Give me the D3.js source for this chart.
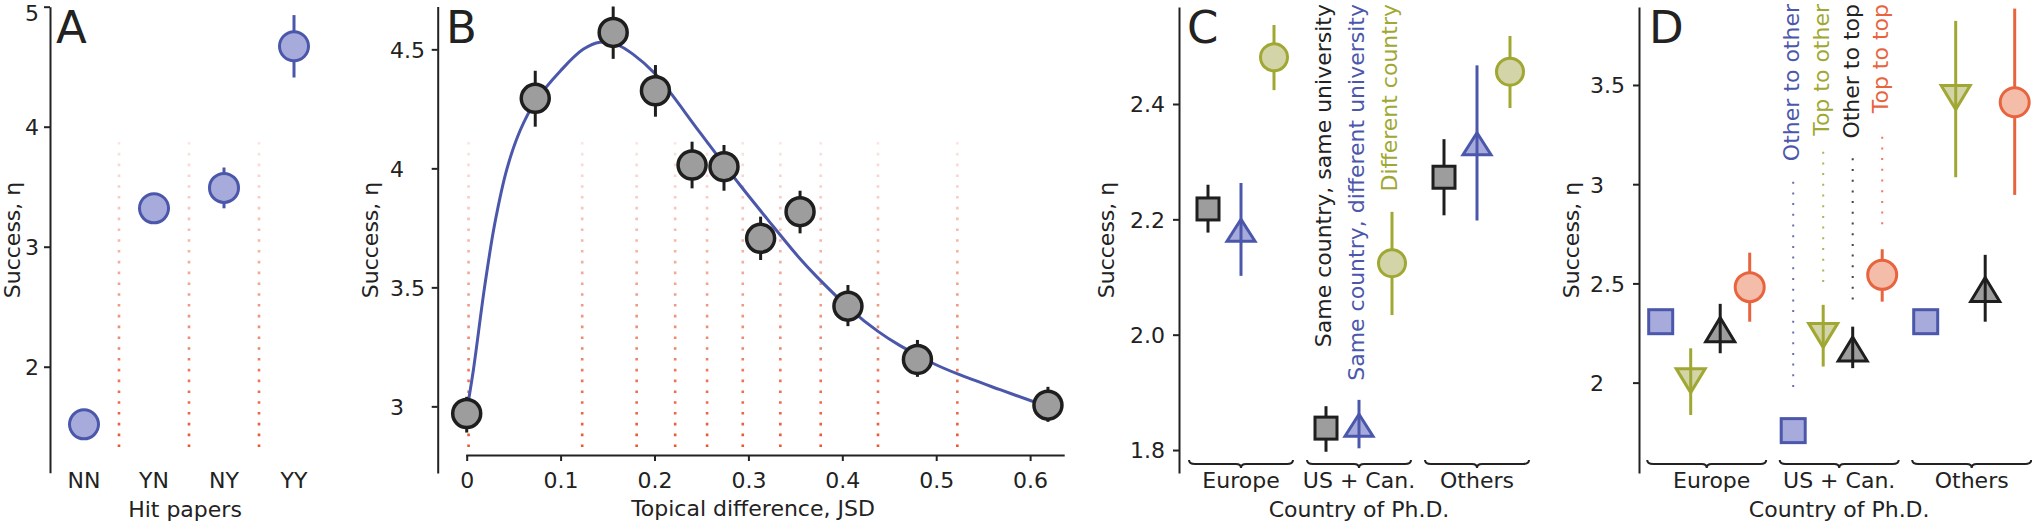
<!DOCTYPE html>
<html>
<head>
<meta charset="utf-8">
<script src="https://cdn.jsdelivr.net/npm/d3@7/dist/d3.min.js"></script>
<style>
  html, body { margin: 0; padding: 0; background: #fff; }
  svg { display: block; font-family: "DejaVu Sans", sans-serif; }
  text { fill: #222; }
</style>
</head>
<body>
<svg id="chart" width="2032" height="530"></svg>
<script>
// ---------------- DATA ----------------
// Panel A
const hitCategories = ["NN", "YN", "NY", "YY"];
const hitSuccess = [1.52, 3.32, 3.49, 4.67];
const hitErrLow = [1.49, 3.29, 3.32, 4.41];
const hitErrHigh = [1.55, 3.35, 3.66, 4.93];

// Panel B
const jsdValues = [0.0, 0.073, 0.156, 0.201, 0.240, 0.274, 0.313, 0.355, 0.406, 0.480, 0.619];
const jsdSuccess = [2.97, 4.294, 4.571, 4.326, 4.014, 4.007, 3.706, 3.818, 3.421, 3.197, 3.005];
const jsdErrLow = [2.89, 4.175, 4.46, 4.217, 3.916, 3.906, 3.615, 3.727, 3.337, 3.124, 2.935];
const jsdErrHigh = [3.04, 4.41, 4.68, 4.434, 4.112, 4.098, 3.797, 3.906, 3.51, 3.279, 3.082];
const jsdBinEdges = [0.002, 0.123, 0.181, 0.222, 0.256, 0.294, 0.334, 0.377, 0.438, 0.5225];
const fitJsd = [0, 0.007, 0.019, 0.030, 0.043, 0.057, 0.073, 0.100, 0.124, 0.142, 0.160, 0.177, 0.200, 0.2165, 0.2485, 0.291, 0.3195, 0.355, 0.3727, 0.408, 0.438, 0.4615, 0.497, 0.5235, 0.568, 0.6106];
const fitSuccess = [2.98, 3.15, 3.50, 3.77, 4.00, 4.16, 4.28, 4.41, 4.50, 4.53, 4.52, 4.48, 4.40, 4.32, 4.15, 3.93, 3.79, 3.62, 3.545, 3.41, 3.315, 3.255, 3.18, 3.135, 3.07, 3.01];
const jsdTicks = [0, 0.1, 0.2, 0.3, 0.4, 0.5, 0.6];

// Panel C
const phdRegions = ["Europe", "US + Can.", "Others"];
const mobilitySeries = ["Same country, same university", "Same country, different university", "Different country"];
const sameUniSuccess = [2.218, 1.838, 2.273];
const sameUniLow = [2.177, 1.797, 2.207];
const sameUniHigh = [2.26, 1.876, 2.339];
const diffUniSuccess = [2.181, 1.843, 2.331];
const diffUniLow = [2.102, 1.803, 2.198];
const diffUniHigh = [2.263, 1.887, 2.467];
const diffCountrySuccess = [2.481, 2.124, 2.456];
const diffCountryLow = [2.424, 2.034, 2.393];
const diffCountryHigh = [2.537, 2.213, 2.518];

// Panel D
const prestigeSeries = ["Other to other", "Top to other", "Other to top", "Top to top"];
const otherOtherSuccess = [2.307, 1.758, 2.307];
const topOtherSuccess = [2.01, 2.238, 3.437];
const topOtherLow = [1.837, 2.081, 3.035];
const topOtherHigh = [2.173, 2.392, 3.823];
const otherTopSuccess = [2.267, 2.169, 2.469];
const otherTopLow = [2.148, 2.073, 2.307];
const otherTopHigh = [2.397, 2.282, 2.644];
const topTopSuccess = [2.481, 2.543, 3.413];
const topTopLow = [2.307, 2.408, 2.946];
const topTopHigh = [2.655, 2.672, 3.885];

// ---------------- STYLE ----------------
const C = {
  blueS: "#4b57ab", blueF: "#a7abdb",
  blackS: "#1e1e1e", grayF: "#9d9d9d",
  oliveS: "#a0a833", oliveF: "#d3d4a8",
  redS: "#e8643f", redF: "#f4bda9",
  dots: "#e4532c", axis: "#222"
};
const FS = 22;

const svg = d3.select("#chart");
const defs = svg.append("defs");
const grad = defs.append("linearGradient").attr("id", "dotGrad")
  .attr("gradientUnits", "userSpaceOnUse").attr("x1", 0).attr("x2", 0).attr("y1", 142).attr("y2", 455);
grad.append("stop").attr("offset", "0%").attr("stop-color", C.dots).attr("stop-opacity", 0.15);
grad.append("stop").attr("offset", "100%").attr("stop-color", C.dots).attr("stop-opacity", 1);

function styleAxis(g) {
  g.selectAll("path.domain").attr("stroke", C.axis).attr("stroke-width", 2);
  g.selectAll(".tick line").attr("stroke", C.axis).attr("stroke-width", 2);
  g.selectAll("text").attr("font-size", FS).attr("font-family", "DejaVu Sans").attr("fill", "#222");
}
function yAxis(scale, axisX, ticks, fmt, labelLeft) {
  const g = svg.append("g").attr("transform", `translate(${axisX},0)`)
    .call(d3.axisLeft(scale).tickValues(ticks).tickFormat(fmt).tickSize(6).tickSizeOuter(0));
  styleAxis(g);
  g.selectAll(".tick text").attr("text-anchor", "start").attr("x", labelLeft - axisX).attr("dy", "0.36em")
    .attr("y", d => scale(d) < 12 ? 6 : 0);
  return g;
}
function yTitle(xBase) {
  svg.append("text").attr("transform", `translate(${xBase},240) rotate(-90)`)
    .attr("text-anchor", "middle").attr("font-size", FS).text("Success, η");
}
function panelLetter(x, t) {
  svg.append("text").attr("x", x).attr("y", 43).attr("font-size", 45).attr("fill", "#111").text(t);
}
function errBar(x, y1, y2, color, w) {
  svg.append("line").attr("x1", x).attr("x2", x).attr("y1", y1).attr("y2", y2)
    .attr("stroke", color).attr("stroke-width", w || 3);
}
function circleMark(x, y, r, fill, stroke, sw) {
  svg.append("circle").attr("cx", x).attr("cy", y).attr("r", r)
    .attr("fill", fill).attr("stroke", stroke).attr("stroke-width", sw);
}
function squareMark(x, y, s, fill, stroke) {
  svg.append("rect").attr("x", x - s / 2).attr("y", y - s / 2).attr("width", s).attr("height", s)
    .attr("fill", fill).attr("stroke", stroke).attr("stroke-width", 3);
}
function triMark(x, y, hw, hh, up, fill, stroke) {
  const d = up
    ? `M${x},${y - hh} L${x - hw},${y + hh} L${x + hw},${y + hh} Z`
    : `M${x},${y + hh} L${x - hw},${y - hh} L${x + hw},${y - hh} Z`;
  svg.append("path").attr("d", d).attr("fill", fill).attr("stroke", stroke)
    .attr("stroke-width", 3).attr("stroke-linejoin", "miter");
}
function brace(x0, x1, y) {
  const cx = (x0 + x1) / 2;
  const d = `M${x0},${y - 4} Q${x0},${y} ${x0 + 6},${y} L${cx - 5},${y} Q${cx},${y} ${cx},${y + 4} Q${cx},${y} ${cx + 5},${y} L${x1 - 6},${y} Q${x1},${y} ${x1},${y - 4}`;
  svg.append("path").attr("d", d).attr("fill", "none").attr("stroke", C.axis).attr("stroke-width", 2);
}
function dottedRed(x) {
  svg.append("line").attr("x1", x).attr("x2", x).attr("y1", 142).attr("y2", 455)
    .attr("stroke", "url(#dotGrad)").attr("stroke-width", 2.6).attr("stroke-dasharray", "2.6,8.2");
}

// ---------------- PANEL A ----------------
{
  const x = d3.scalePoint().domain(hitCategories).range([84, 294]);
  const y = d3.scaleLinear().domain([1.117, 5]).range([472.7, 6.7]);
  const step = x.step();
  hitCategories.slice(1).forEach(c => dottedRed(x(c) - step / 2));
  yAxis(y, 50, [2, 3, 4, 5], d3.format("d"), 25);
  yTitle(19.5);
  panelLetter(56, "A");
  hitCategories.forEach((c, i) => {
    errBar(x(c), y(hitErrLow[i]), y(hitErrHigh[i]), C.blueS, 3);
    circleMark(x(c), y(hitSuccess[i]), 14.5, C.blueF, C.blueS, 3);
    svg.append("text").attr("x", x(c)).attr("y", 488).attr("text-anchor", "middle").attr("font-size", FS).text(c);
  });
  svg.append("text").attr("x", 185).attr("y", 517).attr("text-anchor", "middle").attr("font-size", FS).text("Hit papers");
}

// ---------------- PANEL B ----------------
{
  const x = d3.scaleLinear().domain([-0.001, 0.6363]).range([465.76, 1064.2]);
  const y = d3.scaleLinear().domain([2.72, 4.68]).range([473, 6.5]);
  jsdBinEdges.forEach(e => dottedRed(x(e)));
  yAxis(y, 437.7, [3, 3.5, 4, 4.5], d3.format(""), 390);
  const gx = svg.append("g").attr("transform", "translate(0,455)")
    .call(d3.axisBottom(x).tickValues(jsdTicks).tickSize(6).tickSizeOuter(0).tickPadding(11)
      .tickFormat(d => d === 0 ? "0" : d3.format(".1f")(d)));
  styleAxis(gx);
  yTitle(378);
  panelLetter(446, "B");
  const line = d3.line().x(d => x(d[0])).y(d => y(d[1])).curve(d3.curveCatmullRom.alpha(0.5));
  svg.append("path").datum(fitJsd.map((v, i) => [v, fitSuccess[i]]))
    .attr("d", line).attr("fill", "none").attr("stroke", C.blueS).attr("stroke-width", 3);
  jsdValues.forEach((v, i) => {
    errBar(x(v), y(jsdErrLow[i]), y(jsdErrHigh[i]), C.blackS, 3);
    circleMark(x(v), y(jsdSuccess[i]), 14, C.grayF, C.blackS, 3.5);
  });
  svg.append("text").attr("x", 753).attr("y", 516).attr("text-anchor", "middle").attr("font-size", FS)
    .text("Topical difference, JSD");
}

// ---------------- PANEL C ----------------
{
  const x = d3.scalePoint().domain(phdRegions).range([1241, 1477]);
  const y = d3.scaleLinear().domain([1.76, 2.568]).range([473.1, 7.1]);
  const off = 33;
  yAxis(y, 1179, [1.8, 2.0, 2.2, 2.4], d3.format(".1f"), 1130);
  yTitle(1114);
  panelLetter(1187, "C");
  phdRegions.forEach((r, i) => {
    const cx = x(r);
    brace(cx - 52, cx + 52, 464);
    svg.append("text").attr("x", cx).attr("y", 488).attr("text-anchor", "middle").attr("font-size", FS).text(r);
    errBar(cx - off, y(sameUniLow[i]), y(sameUniHigh[i]), C.blackS, 3);
    squareMark(cx - off, y(sameUniSuccess[i]), 22, C.grayF, C.blackS);
    triMark(cx, y(diffUniSuccess[i]), 14, 11, true, C.blueF, C.blueS);
    errBar(cx, y(diffUniLow[i]), y(diffUniHigh[i]), C.blueS, 3);
    errBar(cx + off, y(diffCountryLow[i]), y(diffCountryHigh[i]), C.oliveS, 3);
    circleMark(cx + off, y(diffCountrySuccess[i]), 13.5, C.oliveF, C.oliveS, 3);
  });
  const lc = x("US + Can.");
  const legendColors = ["#222", C.blueS, C.oliveS];
  mobilitySeries.forEach((s, i) => {
    svg.append("text").attr("transform", `translate(${lc - off + i * off + 5},4) rotate(-90)`)
      .attr("text-anchor", "end").attr("font-size", FS).style("fill", legendColors[i]).text(s);
  });
  svg.append("text").attr("x", lc).attr("y", 517).attr("text-anchor", "middle").attr("font-size", FS).text("Country of Ph.D.");
}

// ---------------- PANEL D ----------------
{
  const x = d3.scalePoint().domain(phdRegions).range([1706.7, 1971.7]);
  const y = d3.scaleLinear().domain([1.545, 3.893]).range([472.9, 7.0]);
  const offs = [-46, -16, 13.5, 43];
  yAxis(y, 1639, [2, 2.5, 3, 3.5], d3.format(""), 1590);
  yTitle(1579);
  panelLetter(1649, "D");
  const lc = x("US + Can.");
  const legendColors = [C.blueS, C.oliveS, "#222", C.redS];
  const connTop = [181.7, 151.7, 158.3, 136.7];
  const connBottom = [393.3, 283.3, 305, 226.7];
  prestigeSeries.forEach((s, i) => {
    svg.append("line").attr("x1", lc + offs[i]).attr("x2", lc + offs[i])
      .attr("y1", connTop[i]).attr("y2", connBottom[i])
      .attr("stroke", legendColors[i]).attr("stroke-width", 2).attr("stroke-dasharray", "2,8.7").attr("opacity", 0.85);
    svg.append("text").attr("transform", `translate(${lc + offs[i] + 6},4) rotate(-90)`)
      .attr("text-anchor", "end").attr("font-size", FS).style("fill", legendColors[i]).text(s);
  });
  phdRegions.forEach((r, i) => {
    const cx = x(r);
    brace(cx - 59.5, cx + 59.5, 464);
    svg.append("text").attr("x", cx + (i === 0 ? 5 : 0)).attr("y", 488).attr("text-anchor", "middle").attr("font-size", FS).text(r);
    squareMark(cx + offs[0], y(otherOtherSuccess[i]), 24, C.blueF, C.blueS);
    triMark(cx + offs[1], y(topOtherSuccess[i]), 14.5, 12, false, C.oliveF, C.oliveS);
    errBar(cx + offs[1], y(topOtherLow[i]), y(topOtherHigh[i]), C.oliveS, 3);
    triMark(cx + offs[2], y(otherTopSuccess[i]), 14.5, 12, true, C.grayF, C.blackS);
    errBar(cx + offs[2], y(otherTopLow[i]), y(otherTopHigh[i]), C.blackS, 3);
    errBar(cx + offs[3], y(topTopLow[i]), y(topTopHigh[i]), C.redS, 3);
    circleMark(cx + offs[3], y(topTopSuccess[i]), 14.5, C.redF, C.redS, 3);
  });
  svg.append("text").attr("x", lc).attr("y", 517).attr("text-anchor", "middle").attr("font-size", FS).text("Country of Ph.D.");
}
</script>
</body>
</html>
